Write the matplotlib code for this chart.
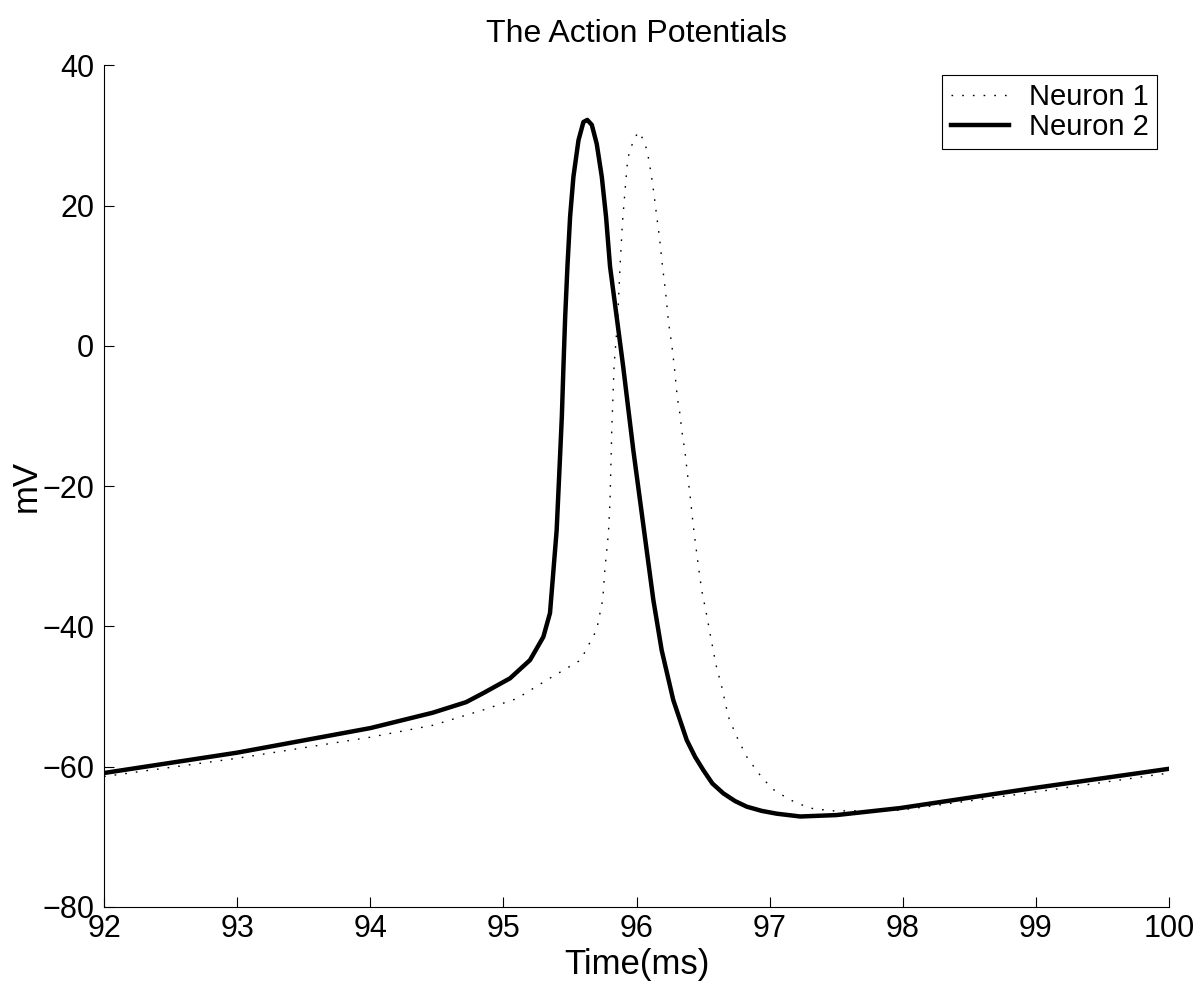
import matplotlib
matplotlib.use("Agg")
import matplotlib.pyplot as plt

plt.rcParams['font.family'] = ['Liberation Sans', 'DejaVu Sans']

# Neuron 1 (dotted) - time (ms), membrane potential (mV)
t1 = [92.0, 93.0, 94.0, 94.47, 94.85, 95.1, 95.33, 95.58, 95.7, 95.746,
      95.764, 95.789, 95.801, 95.814, 95.831, 95.859, 95.876, 95.894, 95.914,
      95.934, 95.959, 95.989, 96.021, 96.057, 96.081, 96.109, 96.132, 96.152,
      96.172, 96.197, 96.217, 96.24, 96.265, 96.284, 96.307, 96.327, 96.339,
      96.364, 96.382, 96.402, 96.427, 96.457, 96.489, 96.522, 96.552, 96.597,
      96.64, 96.69, 96.752, 96.828, 96.915, 97.015, 97.15, 97.3, 97.47, 97.6,
      97.98, 99.0, 100.0]
v1 = [-61.4, -58.8, -55.8, -54.1, -51.9, -50.3, -47.6, -44.8, -40.5, -36.2,
      -31.5, -26.7, -22.0, -12.0, -3.0, 4.1, 11.3, 17.5, 22.2,
      26.7, 28.3, 29.8, 30.5, 29.1, 27.7, 24.6, 21.5, 18.4,
      15.5, 11.0, 7.9, 3.4, 0.1, -3.0, -7.5, -9.8, -12.0,
      -15.1, -18.2, -21.3, -25.8, -30.3, -34.8, -37.9, -41.0, -45.5,
      -48.6, -52.9, -55.7, -58.6, -60.9, -63.1, -64.7, -65.9, -66.3, -66.3,
      -66.2, -63.6, -60.9]

# Neuron 2 (solid)
t2 = [92.0, 93.0, 94.0, 94.47, 94.72, 94.85, 95.05, 95.2, 95.3, 95.35, 95.37,
      95.4, 95.425, 95.439, 95.451, 95.464, 95.481, 95.501, 95.526, 95.564,
      95.601, 95.63, 95.664, 95.701, 95.739, 95.771, 95.801, 95.851, 95.9,
      95.935, 95.976, 96.026, 96.076, 96.126, 96.189, 96.276, 96.377, 96.44,
      96.502, 96.57, 96.652, 96.74, 96.828, 96.94, 97.053, 97.23, 97.5, 97.98,
      99.0, 100.0]
v2 = [-60.9, -58.0, -54.5, -52.3, -50.8, -49.5, -47.4, -44.8, -41.5, -38.1,
      -33.4, -26.3, -16.0, -10.1, -3.0, 4.1, 11.3, 18.4, 24.1, 29.3,
      31.9, 32.2, 31.5, 28.8, 24.1, 18.4, 11.3, 4.1, -3.0,
      -8.5, -14.9, -22.0, -29.1, -36.2, -43.4, -50.5, -56.2, -58.6,
      -60.5, -62.4, -63.8, -64.9, -65.7, -66.3, -66.7, -67.1, -66.9, -65.9,
      -63.0, -60.3]

fig = plt.figure(figsize=(12.01, 9.88), dpi=100)
ax = fig.add_axes([0.0866, 0.082, 0.8868, 0.852])

ax.plot(t1, v1, color='black', lw=1.0, linestyle=(0, (1.2, 6.5)), label='Neuron 1')
ax.plot(t2, v2, color='black', lw=3.2, solid_joinstyle='round', label='Neuron 2')

ax.set_xlim(92, 100)
ax.set_ylim(-80, 40)
ax.set_xticks(range(92, 101))
ax.set_yticks(range(-80, 41, 20))

ax.spines['top'].set_visible(False)
ax.spines['right'].set_visible(False)
for s in ('left', 'bottom'):
    ax.spines[s].set_linewidth(0.8)
ax.tick_params(direction='in', length=7, width=0.8, labelsize=22)
ax.tick_params(axis='x', pad=5)
ax.tick_params(axis='y', pad=7)

ax.set_title("The Action Potentials", fontsize=23, pad=17)
ax.set_xlabel("Time(ms)", fontsize=25, labelpad=3)
ax.set_ylabel("mV", fontsize=25, labelpad=0)

leg = ax.legend(loc='upper right', fontsize=21, fancybox=False, framealpha=1,
                edgecolor='black', handlelength=2.0, handletextpad=0.7,
                borderpad=0.28, labelspacing=0.06, borderaxespad=0,
                bbox_to_anchor=(0.989, 0.988))
leg.get_frame().set_linewidth(0.8)

fig.savefig("out.png", dpi=100)
